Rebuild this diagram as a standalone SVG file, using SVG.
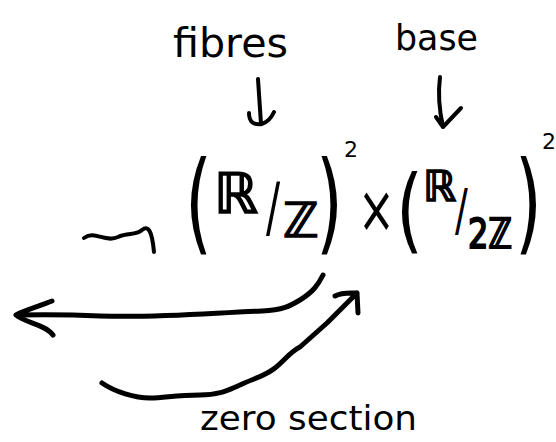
<svg xmlns="http://www.w3.org/2000/svg" width="556" height="442" viewBox="0 0 556 442">
<style>
.t{font-family:"DejaVu Sans","Liberation Sans",sans-serif;fill:#000}
.b{stroke:#000;stroke-width:1.6}
.s{fill:none;stroke:#000;stroke-linecap:round;stroke-linejoin:round}
</style>
<rect width="556" height="442" fill="#fff"/>
<g id="label-fibres"><text class="t" x="173" y="57" font-size="40" textLength="115" lengthAdjust="spacingAndGlyphs">fibres</text></g>
<g id="label-base"><text class="t" x="395" y="50" font-size="36" textLength="83" lengthAdjust="spacingAndGlyphs">base</text></g>
<g id="formula">
<text class="t" font-size="46" transform="translate(185,240) scale(1.5,2.4)">(</text>
<text class="t b" x="214" y="213" font-size="56">ℝ</text>
<text class="t" font-size="42" transform="translate(266,230) scale(1,1.55)">/</text>
<text class="t b" x="283" y="237" font-size="48">ℤ</text>
<text class="t" font-size="46" transform="translate(316,240) scale(1.5,2.4)">)</text>
<text class="t" x="344" y="157" font-size="22">2</text>
<text class="t" font-size="44" transform="translate(358,232) scale(1,1.5)">×</text>
<text class="t" font-size="46" transform="translate(396,242) scale(1.5,2.0)">(</text>
<text class="t b" x="423" y="201" font-size="42">ℝ</text>
<text class="t" font-size="38" transform="translate(455,230) scale(1,1.5)">/</text>
<text class="t b" font-size="32" transform="translate(468,248) scale(1,1.3)">2ℤ</text>
<text class="t" font-size="46" transform="translate(515,240) scale(1.5,2.4)">)</text>
<text class="t" x="542" y="149" font-size="22">2</text>
</g>
<g id="label-zero-section"><text class="t" x="200" y="430" font-size="34" textLength="217" lengthAdjust="spacingAndGlyphs">zero section</text></g>
<g id="connectors">
<path class="s" stroke-width="4" d="M258,79 L261,124 M249,113 Q249,126 262,124 Q270,121 274,112"/>
<path class="s" stroke-width="4" d="M440,77 Q437,100 443,127 M436,117 L443,127 L461,108"/>
<path class="s" stroke-width="4" d="M84,238 C95,230 105,243 118,237 C128,232 135,236 142,230 C148,225 152,230 154,252"/>
<path class="s" stroke-width="5" d="M323,275 C318,285 313,292 300,300 C290,306 283,310 262,311 C210,313 160,318 100,316 C80,315 60,314 16,315 M52,301 C40,306 25,310 16,315 C25,323 45,324 53,335"/>
<path class="s" stroke-width="5" d="M102,383 C115,392 135,398 150,398 C165,398 175,395 200,395 C220,395 228,390 240,385 C255,378 265,376 275,368 C285,360 290,352 300,347 L327,323 L357,293 M335,296 C342,292 350,293 357,293 L358,313"/>
</g>
</svg>
